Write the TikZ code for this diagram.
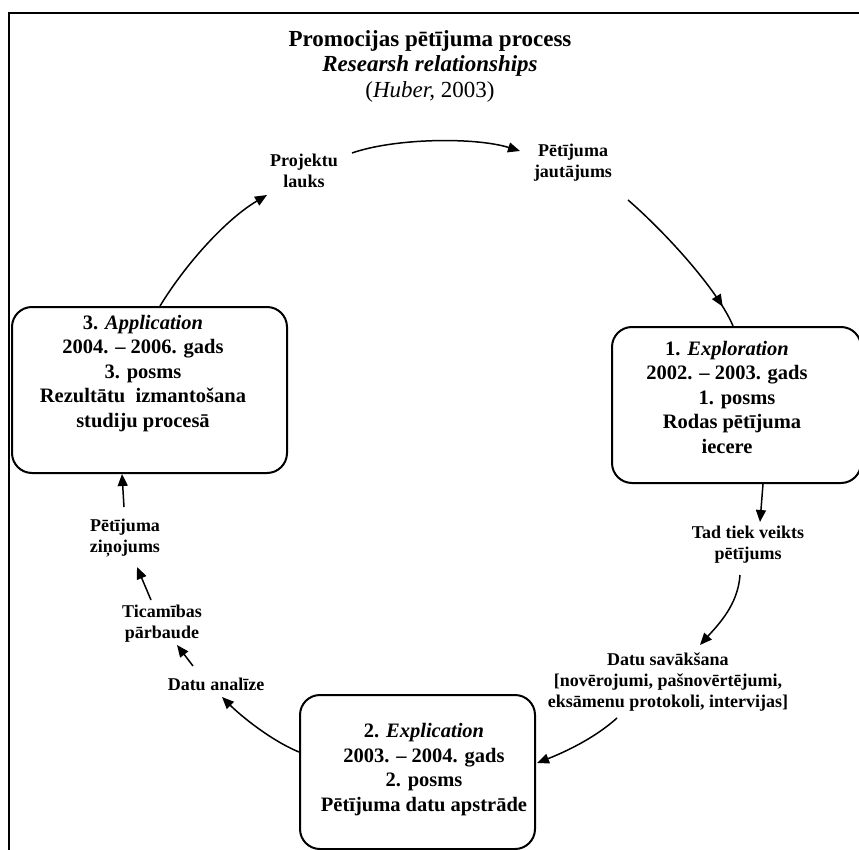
\documentclass[tikz,border=0pt]{standalone}
\usepackage{fontspec}
\setmainfont{Liberation Serif}
\usetikzlibrary{arrows.meta,calc,decorations.markings}
\begin{document}
\begin{tikzpicture}[x=1pt,y=-1pt,
  box/.style={draw=black, line width=2pt, rounded corners=20pt, inner sep=0pt},
  lbl/.style={font=\bfseries\fontsize{18}{21}\selectfont, align=center, inner sep=1pt},
  btxt/.style={font=\bfseries\fontsize{20.5}{24.5}\selectfont, align=center, inner sep=0pt},
  ttl/.style={font=\fontsize{23}{25.5}\selectfont, align=center, inner sep=0pt},
  conn/.style={line width=1.5pt},
  arr/.style={line width=1.5pt, -{Triangle[length=12pt,width=10pt]}}
]
\useasboundingbox (0,0) rectangle (859,850);
\fill[white] (0,0) rectangle (859,850);
\begin{scope}
\clip (0,0) rectangle (859,850);
\draw[line width=1.8pt] (9,880) -- (9,13) -- (880,13);

% title
\node[ttl] (tt) at (430,66) {\textbf{Promocijas pētījuma process}\\
  \textbf{\textit{Researsh relationships}}\\
  (\textit{Huber,} 2003)};

% boxes
\node[box, minimum width=249pt, minimum height=156pt] (b1) at (736.5,405) {};
\node[btxt] (t1) at (727,397) {1. \textit{Exploration}\\2002. – 2003. gads\\\hspace*{20pt}1. posms\\\hspace*{10pt}Rodas pētījuma\\iecere};

\node[box, minimum width=235pt, minimum height=154pt] (b2) at (417.5,772) {};
\node[btxt] (t2) at (424,769.5) {2. \textit{Explication}\\2003. – 2004. gads\\2. posms\\Pētījuma datu apstrāde};

\node[box, minimum width=275pt, minimum height=166pt] (b3) at (149.5,390) {};
\node[btxt] (t3) at (143,373.5) {3. \textit{Application}\\2004. – 2006. gads\\3. posms\\Rezultātu\ \ izmantošana\\studiju procesā};

% labels
\node[lbl] (pl) at (304,171) {Projektu\\lauks};
\node[lbl] (pj) at (573,163) {Pētījuma\\jautājums};
\node[lbl] (tad) at (748,545) {Tad tiek veikts\\pētījums};
\node[lbl] (ds) at (668,682) {Datu savākšana\\{}[novērojumi, pašnovērtējumi,\\eksāmenu protokoli, intervijas]};
\node[lbl] (da) at (216,684) {Datu analīze};
\node[lbl] (ti) at (162,624) {Ticamības\\pārbaude};
\node[lbl] (pz) at (125,538) {Pētījuma\\ziņojums};

% connectors
\draw[arr] ($(pl)+(48,-18)$) .. controls (395,138) and (475,137) .. ($(pj)+(-53,-12)$);
\draw[conn, decoration={markings, mark=at position -22pt with {\arrow{Triangle[length=12pt,width=10pt]}}}, postaction=decorate]
  ($(pj)+(55,37)$) .. controls (665,232) and (718,290) .. ($(b1.north)+(-3.5,0)$);
\draw[arr] ($(b1.south)+(26.5,0)$) -- ($(tad)+(12,-23)$);
\draw[arr] ($(tad)+(-8,30)$) .. controls (738,605) and (718,625) .. ($(ds)+(32,-37)$);
\draw[arr] ($(ds)+(-51,36)$) .. controls (595,738) and (565,752) .. ($(b2.east)+(1,-9)$);
\draw[arr] ($(b2.west)+(0,-20)$) .. controls (270,740) and (240,715) .. ($(da)+(6,13)$);
\draw[arr] ($(da)+(-23,-18)$) -- ($(ti)+(15,21)$);
\draw[arr] ($(ti)+(-11,-24)$) -- ($(pz)+(12,29)$);
\draw[arr] ($(pz)+(-1,-31)$) -- ($(b3.south)+(-27.5,0)$);
\draw[arr] ($(b3.north)+(10.5,0)$) .. controls (185,265) and (225,220) .. ($(pl)+(-37,24)$);
\end{scope}
\end{tikzpicture}
\end{document}
